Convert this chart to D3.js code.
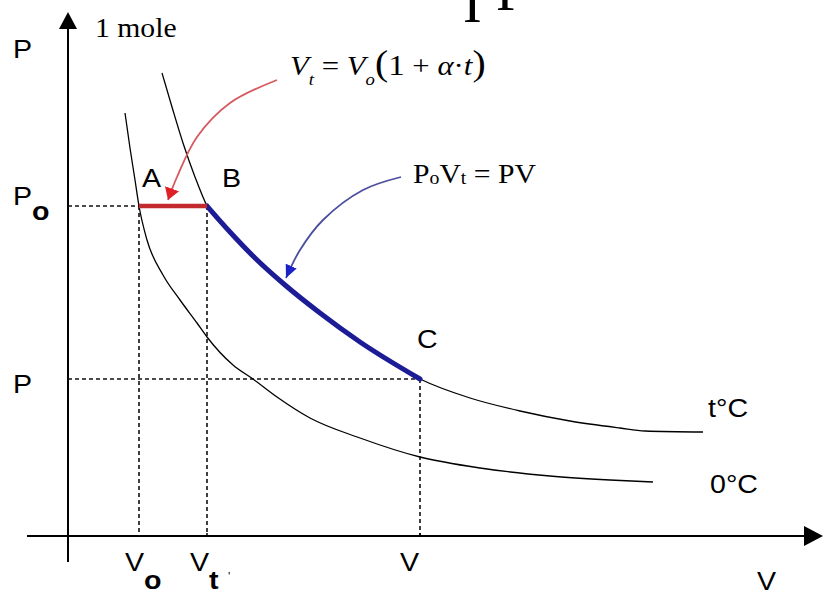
<!DOCTYPE html>
<html>
<head>
<meta charset="utf-8">
<script src="https://cdn.jsdelivr.net/npm/d3@7"></script>
<style>
  html, body { margin: 0; padding: 0; background: #fff; overflow: hidden; }
  svg { display: block; }
</style>
</head>
<body>
<svg id="chart" width="831" height="592"></svg>
<script>
// ---- data (chart units: volume along x, pressure along y) ----
const volumeNames  = ["V", "V", "V"];
const volumeSubs   = ["o", "t", ""];
const volumeValues = [7.1, 13.9, 35.2];          // Vo, Vt, V

const pressureNames  = ["P", "P"];
const pressureSubs   = ["o", ""];
const pressureValues = [33.0, 15.7];             // Po, P

// isotherm at t °C  (V, P)
const isoHot = [
  [9.4, 46.3], [10.4, 42.9], [11.5, 39.3], [12.7, 35.9], [13.9, 33.0],
  [16.2, 30.4], [18.7, 27.8], [21.7, 25.1], [25.2, 22.3], [29.2, 19.4],
  [35.2, 15.7], [40.2, 13.8], [45.2, 12.5], [50.2, 11.5], [55.2, 10.8],
  [57.7, 10.5], [63.5, 10.4]
];
// isotherm at 0 °C  (V, P)
const isoCold = [
  [5.7, 42.3], [6.2, 38.8], [6.7, 35.6], [7.1, 33.0], [7.9, 29.6],
  [9.5, 26.1], [11.2, 23.6], [12.9, 21.3], [13.9, 19.9], [16.5, 17.1],
  [18.5, 15.7], [20.9, 13.9], [24.2, 11.8], [29.2, 9.8], [35.2, 7.9],
  [41.2, 6.8], [48.2, 6.0], [54.2, 5.6], [58.5, 5.4]
];
const isoNames = ["t°C", "0°C"];
const pointNames = ["A", "B", "C"];

// annotation arrows (V, P)
const redArrow  = [[20.9, 45.6], [16.2, 43.3], [12.9, 39.9], [10.9, 35.9], [10.0, 33.6]];
const blueArrow = [[33.3, 35.9], [29.5, 34.6], [25.5, 31.6], [23.2, 28.6], [21.8, 25.8]];

// ---- scales ----
const svg = d3.select("#chart");
const x = d3.scaleLinear().domain([0, 74]).range([68, 808]);
const y = d3.scaleLinear().domain([0, 53.6]).range([536, 0]);

const SANS = "'Liberation Sans', Arial, sans-serif";
const SERIF = "'Liberation Serif', 'Times New Roman', serif";
const SX = 1.1;   // slightly wide lettering

function addText(px, py, parts, base) {
  const t = svg.append("text")
    .attr("transform", `translate(${px},${py}) scale(${base.sx || SX},1)`)
    .attr("font-family", base.family)
    .attr("font-size", base.size)
    .attr("fill", "#000");
  parts.forEach(p => {
    const s = t.append("tspan").text(p.t);
    if (p.dy) s.attr("dy", p.dy);
    if (p.size) s.attr("font-size", p.size);
    if (p.italic) s.attr("font-style", "italic");
    if (p.bold) s.attr("font-weight", "bold");
  });
  return t;
}

// ---- markers ----
const defs = svg.append("defs");
function marker(id, color, len, half) {
  defs.append("marker")
    .attr("id", id)
    .attr("markerUnits", "userSpaceOnUse")
    .attr("viewBox", `0 ${-half} ${len} ${2 * half}`)
    .attr("refX", len).attr("refY", 0)
    .attr("markerWidth", len).attr("markerHeight", 2 * half)
    .attr("orient", "auto")
    .append("path")
    .attr("d", `M0,${-half} L${len},0 L0,${half} Z`)
    .attr("fill", color);
}
marker("headRed", "#e01f26", 12, 7.5);
marker("headBlue", "#1c22c8", 13, 6);

// ---- axes ----
const x0 = y(0), y0 = x(0);
svg.append("line")
  .attr("x1", x(-4.1)).attr("x2", x(73.8))
  .attr("y1", x0).attr("y2", x0)
  .attr("stroke", "#000").attr("stroke-width", 2);
svg.append("path")
  .attr("d", `M${x(75.5)},${x0} L${x(73.6)},${x0 - 10} L${x(73.6)},${x0 + 10} Z`)
  .attr("fill", "#000");
svg.append("line")
  .attr("x1", y0).attr("x2", y0)
  .attr("y1", y(-2.6)).attr("y2", y(51))
  .attr("stroke", "#000").attr("stroke-width", 2);
svg.append("path")
  .attr("d", `M${y0},${y(52.4)} L${y0 - 9},${y(50.7)} L${y0 + 9},${y(50.7)} Z`)
  .attr("fill", "#000");

// ---- dotted guide lines ----
const [Vo, Vt, V1] = volumeValues;
const [Po, P1] = pressureValues;
const guides = [
  [[0, Po], [Vt, Po]],
  [[Vo, Po], [Vo, 0]],
  [[Vt, Po], [Vt, 0]],
  [[0, P1], [V1, P1]],
  [[V1, P1], [V1, 0]]
];
svg.append("g").selectAll("line").data(guides).join("line")
  .attr("x1", d => x(d[0][0])).attr("y1", d => y(d[0][1]))
  .attr("x2", d => x(d[1][0])).attr("y2", d => y(d[1][1]))
  .attr("stroke", "#111").attr("stroke-width", 1.6)
  .attr("stroke-dasharray", "4 3");

// small ticks on the volume axis
svg.append("g").selectAll("line").data(volumeValues.slice(1)).join("line")
  .attr("x1", d => x(d)).attr("x2", d => x(d))
  .attr("y1", x0).attr("y2", x0 - 3)
  .attr("stroke", "#000").attr("stroke-width", 1.5);

// ---- isotherms ----
const line = d3.line().x(d => x(d[0])).y(d => y(d[1])).curve(d3.curveMonotoneX);
[isoHot, isoCold].forEach(c => {
  svg.append("path").attr("d", line(c))
    .attr("fill", "none").attr("stroke", "#000").attr("stroke-width", 1.3);
});

// B -> C along the t °C isotherm
const bc = isoHot.filter(d => d[0] >= Vt - 1e-9 && d[0] <= V1 + 1e-9);
svg.append("path").attr("d", line(bc))
  .attr("fill", "none").attr("stroke", "#1c1c96").attr("stroke-width", 5)
  .attr("stroke-linecap", "round");

// A -> B at constant pressure
svg.append("line")
  .attr("x1", x(Vo)).attr("x2", x(Vt)).attr("y1", y(Po)).attr("y2", y(Po))
  .attr("stroke", "#c22a2e").attr("stroke-width", 4.5);

// ---- annotation arrows ----
const curvy = d3.line().x(d => x(d[0])).y(d => y(d[1])).curve(d3.curveCatmullRom);
svg.append("path").attr("d", curvy(redArrow))
  .attr("fill", "none").attr("stroke", "#d45a60").attr("stroke-width", 1.8)
  .attr("marker-end", "url(#headRed)");
svg.append("path").attr("d", curvy(blueArrow))
  .attr("fill", "none").attr("stroke", "#4b4f9e").attr("stroke-width", 1.8)
  .attr("marker-end", "url(#headBlue)");

// ---- labels ----
// axis titles
addText(13, 58, [{ t: "P" }], { family: SANS, size: 26 });
addText(95, 37, [{ t: "1 mole" }], { family: SERIF, size: 27 });
addText(757, 590, [{ t: "V" }], { family: SANS, size: 26 });

// pressure levels
const pShift = [[-55, -1], [-55, 14]];
pressureValues.forEach((p, i) => {
  const parts = [{ t: pressureNames[i] }];
  if (pressureSubs[i]) parts.push({ t: pressureSubs[i], bold: true, size: 26, dy: 15 });
  addText(x(0) + pShift[i][0], y(p) + pShift[i][1], parts, { family: SANS, size: 26 });
});

// volume marks
const vShift = [-14, -17, -20];
volumeValues.forEach((v, i) => {
  const parts = [{ t: volumeNames[i] }];
  if (volumeSubs[i]) parts.push({ t: volumeSubs[i], bold: true, size: 26, dy: 18 });
  addText(x(v) + vShift[i], 571, parts, { family: SANS, size: 26 });
});
addText(x(Vt) + 21, 580, [{ t: "'" }], { family: SANS, size: 11 });

// state points
const ptPos = [[Vo, Po], [Vt, Po], [V1, P1]];
const ptShift = [[3, -19], [15, -19], [-3, -31]];
pointNames.forEach((n, i) => {
  addText(x(ptPos[i][0]) + ptShift[i][0], y(ptPos[i][1]) + ptShift[i][1],
    [{ t: n }], { family: SANS, size: 26 });
});

// isotherm names
const isoEnds = [isoHot[isoHot.length - 1], isoCold[isoCold.length - 1]];
const isoShift = [[5, -15], [57, 11]];
isoNames.forEach((n, i) => {
  addText(x(isoEnds[i][0]) + isoShift[i][0], y(isoEnds[i][1]) + isoShift[i][1],
    [{ t: n }], { family: SANS, size: 26 });
});

// equations
addText(290, 75, [
  { t: "V", italic: true },
  { t: "t", italic: true, size: 17, dy: 10 },
  { t: " = ", dy: -10 },
  { t: "V", italic: true },
  { t: "o", italic: true, size: 17, dy: 10 },
  { t: "(", size: 36, dy: -10 },
  { t: "1", size: 30 },
  { t: " + " },
  { t: "α", italic: true },
  { t: "·" },
  { t: "t", italic: true },
  { t: ")", size: 36 }
], { family: SERIF, size: 28 });

addText(413, 183, [
  { t: "P" },
  { t: "o", size: 18, dy: 1 },
  { t: "V", dy: -1 },
  { t: "t", size: 18, dy: 1 },
  { t: " = ", dy: -1 },
  { t: "PV" }
], { family: SERIF, size: 27 });

// heading lettering running off the top edge
addText(463, 22, [{ t: "I" }], { family: SERIF, size: 56, sx: 1 });
addText(496, 10, [{ t: "P" }], { family: SERIF, size: 56, sx: 1 });
</script>
</body>
</html>
